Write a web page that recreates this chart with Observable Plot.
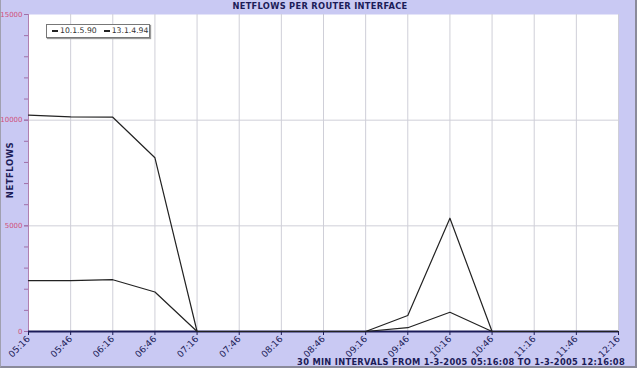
<!DOCTYPE html>
<html>
<head>
<meta charset="utf-8">
<script src="https://cdn.jsdelivr.net/npm/d3@7"></script>
<script src="https://cdn.jsdelivr.net/npm/@observablehq/plot@0.6"></script>
<style>
  html, body { margin: 0; padding: 0; background: #ffffff; }
  #wrap { position: relative; width: 640px; height: 372px; overflow: hidden; font-family: "DejaVu Sans", Verdana, sans-serif; }
  #bg { position: absolute; left: 0; top: 0; width: 634px; height: 366px; background: #c9c9f3; border-right: 2px solid #8a8a9a; border-bottom: 2px solid #8a8a9a; border-left: 1px solid #a0a0b0; }
  #chart { position: absolute; left: 0; top: 0; }
  #title { position: absolute; left: 0; width: 640px; top: 1px; text-align: center; font-weight: bold; font-size: 8.3px; letter-spacing: 0.3px; color: #1c1c58; }
  #caption { position: absolute; right: 15px; top: 357px; font-weight: bold; font-size: 8.3px; letter-spacing: 0.3px; color: #1c1c58; white-space: nowrap; }
  #ytitle { position: absolute; left: -20px; top: 165px; width: 60px; text-align: center; transform: rotate(-90deg); font-weight: bold; font-size: 8.5px; letter-spacing: 0.5px; color: #1c1c58; }
  #legend { position: absolute; left: 46px; top: 24px; width: 104px; height: 14px; background: #fff; border: 1px solid #777; box-shadow: 1px 1px 1px #999; font-size: 7.7px; line-height: 12px; color: #333; display: flex; align-items: center; gap: 7px; padding-left: 5px; box-sizing: border-box; }
  #legend .item { display: flex; align-items: center; white-space: nowrap; }
  #legend .sw { display: block; width: 6px; height: 1.5px; background: #222; margin-right: 2px; }
</style>
</head>
<body>
<div id="wrap">
  <div id="bg"></div>
  <div id="chart"></div>
  <div id="title"></div>
  <div id="ytitle"></div>
  <div id="legend"></div>
  <div id="caption"></div>
</div>
<script>
const times = ["05:16","05:46","06:16","06:46","07:16","07:46","08:16","08:46","09:16","09:46","10:16","10:46","11:16","11:46","12:16"];
const seriesNames = ["10.1.5.90", "13.1.4.94"];
const seriesA = [10240, 10160, 10140, 8220, 0, 0, 0, 0, 0, 760, 5360, 0, 0, 0, 0];
const seriesB = [2405, 2405, 2450, 1870, 0, 0, 0, 0, 0, 180, 910, 0, 0, 0, 0];
const yLabelTicks = [0, 5000, 10000, 15000];
const yGridTicks = [5000, 10000];
const titleText = "NETFLOWS PER ROUTER INTERFACE";
const yTitleText = "NETFLOWS";
const captionText = "30 MIN INTERVALS FROM 1-3-2005 05:16:08 TO 1-3-2005 12:16:08";

const rows = [];
[seriesA, seriesB].forEach((vals, s) => {
  vals.forEach((v, i) => rows.push({series: seriesNames[s], i, v}));
});
const idx = times.map((t, i) => i);
const minorY = d3.range(0, 15001, 1000);

const navy = "#1c1c58";
const pink = "#d0507a";

const chart = Plot.plot({
  width: 640,
  height: 372,
  marginLeft: 28,
  marginRight: 22,
  marginTop: 14,
  marginBottom: 41,
  style: {background: "transparent", fontFamily: "DejaVu Sans, Verdana, sans-serif"},
  x: {domain: [0, times.length - 1]},
  y: {domain: [0, 15000]},
  marks: [
    Plot.frame({fill: "white", stroke: "none"}),
    Plot.gridX(idx, {stroke: "#cfcfd8", strokeOpacity: 1}),
    Plot.gridY(yGridTicks, {stroke: "#cfcfd8", strokeOpacity: 1}),
    Plot.axisY(minorY, {tickSize: 4, stroke: "#a070a8", tickFormat: d => "", label: null}),
    Plot.axisY(yLabelTicks, {tickSize: 4, stroke: "#a070a8", tickPadding: 2, fill: pink, fontSize: 7, tickFormat: d => String(d), label: null}),
    Plot.ruleX([0], {stroke: "#b080b0", strokeWidth: 1}),
    Plot.axisX(idx, {tickSize: 4, stroke: navy, tickRotate: -45, tickPadding: 2, fontSize: 9, fill: navy, tickFormat: i => times[i], label: null}),
    Plot.ruleY([0], {stroke: navy, strokeWidth: 2}),
    Plot.line(rows, {x: "i", y: "v", z: "series", stroke: "#222", strokeWidth: 1.2})
  ]
});
document.getElementById("chart").appendChild(chart);
document.getElementById("title").textContent = titleText;
document.getElementById("ytitle").textContent = yTitleText;
document.getElementById("caption").textContent = captionText;
const leg = document.getElementById("legend");
seriesNames.forEach(n => {
  const d = document.createElement("div");
  d.className = "item";
  const sw = document.createElement("span");
  sw.className = "sw";
  d.appendChild(sw);
  d.appendChild(document.createTextNode(n));
  leg.appendChild(d);
});
</script>
</body>
</html>
